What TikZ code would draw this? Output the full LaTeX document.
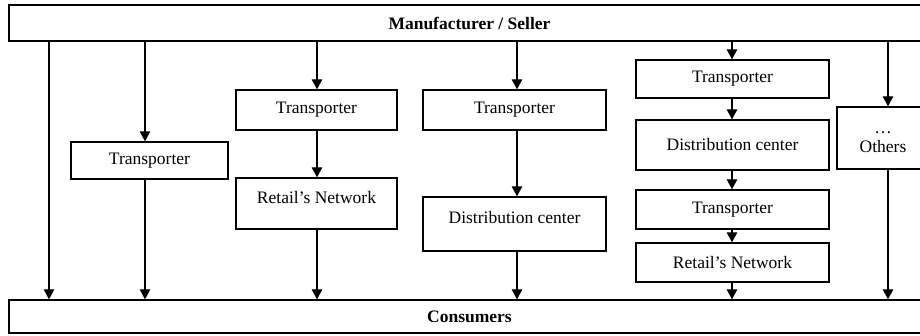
\documentclass[tikz,border=0pt]{standalone}
\usepackage{fontspec}
\setmainfont{Liberation Serif}
\usetikzlibrary{arrows.meta}

\begin{document}
\begin{tikzpicture}[x=1pt, y=-1pt, line width=1.4pt,
  font=\fontsize{17.5}{20}\selectfont,
  box/.style={draw, rectangle, inner sep=0pt},
  bar/.style={draw, rectangle, inner sep=0pt, minimum width=921pt, font=\fontsize{17.5}{20}\selectfont\bfseries},
  arr/.style={-{Triangle[length=10pt, width=10.5pt]}}]
\useasboundingbox (0,0) rectangle (920,336);
\clip (0,0) rectangle (920,336);
% the two bars
\node[bar, minimum height=36pt] (seller) at (469.5,23) {Manufacturer / Seller};
\node[bar, minimum height=33pt] (consumers) at (469.5,316.5) {Consumers};
% columns
\coordinate (c1) at (49,0);
\coordinate (c2) at (145,0);
\coordinate (c3) at (317,0);
\coordinate (c4) at (517,0);
\coordinate (c5) at (732,0);
\coordinate (c6) at (888,0);
% boxes
\node[box, minimum width=157pt, minimum height=37pt] (tA) at (149.5,160.5) {Transporter};
\node[box, minimum width=161pt, minimum height=40pt] (tB) at (316.5,110) {Transporter};
\node[box, minimum width=161pt, text height=26pt, text depth=25pt] (rB) at (316.5,203.5) {Retail’s Network};
\node[box, minimum width=183pt, minimum height=40pt] (tC) at (514.5,110) {Transporter};
\node[box, minimum width=183pt, text height=27pt, text depth=27pt] (dC) at (514.5,224) {Distribution center};
\node[box, minimum width=193pt, minimum height=38pt] (tD) at (732.5,79) {Transporter};
\node[box, minimum width=193pt, minimum height=50pt] (dD) at (732.5,145) {Distribution center};
\node[box, minimum width=193pt, minimum height=39pt] (tD2) at (732.5,209.5) {Transporter};
\node[box, minimum width=193pt, minimum height=39pt] (rD) at (732.5,262.5) {Retail’s Network};
\node[box, minimum width=92pt, text height=46pt, text depth=16pt, align=center] (others) at (883,138) {\ldots\\[-1pt]Others};
% arrows
\draw[arr] (seller.south -| c1) -- (consumers.north -| c1);
\draw[arr] (seller.south -| c2) -- (tA.north -| c2);
\draw[arr] (tA.south -| c2) -- (consumers.north -| c2);
\draw[arr] (seller.south -| c3) -- (tB.north -| c3);
\draw[arr] (tB.south -| c3) -- (rB.north -| c3);
\draw[arr] (rB.south -| c3) -- (consumers.north -| c3);
\draw[arr] (seller.south -| c4) -- (tC.north -| c4);
\draw[arr] (tC.south -| c4) -- (dC.north -| c4);
\draw[arr] (dC.south -| c4) -- (consumers.north -| c4);
\draw[arr] (seller.south -| c5) -- (tD.north -| c5);
\draw[arr] (tD.south -| c5) -- (dD.north -| c5);
\draw[arr] (dD.south -| c5) -- (tD2.north -| c5);
\draw[arr] (tD2.south -| c5) -- (rD.north -| c5);
\draw[arr] (rD.south -| c5) -- (consumers.north -| c5);
\draw[arr] (seller.south -| c6) -- (others.north -| c6);
\draw[arr] (others.south -| c6) -- (consumers.north -| c6);
\end{tikzpicture}
\end{document}
